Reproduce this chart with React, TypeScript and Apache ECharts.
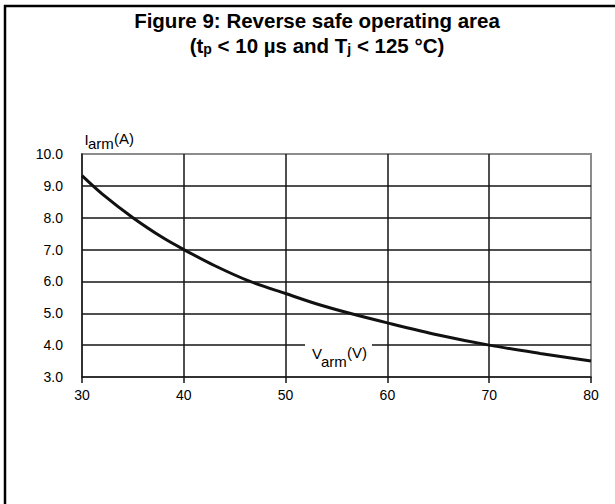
import React, { useEffect, useRef } from "react";
import * as echarts from "echarts";

const FONT = "'Liberation Sans', Arial, Helvetica, sans-serif";

const titleLine1 = "Figure 9: Reverse safe operating area";
const titleLine2 = "(t{sub|p} < 10 µs and T{sub|j} < 125 °C)";

// V_arm (V) and I_arm (A)
const vArm = [30, 32, 35, 38, 40, 43, 46.5, 50, 53, 56.3, 60, 65, 70, 75, 80];
const iArm = [9.32, 8.74, 8.0, 7.36, 7.0, 6.5, 6.0, 5.62, 5.3, 5.0, 4.7, 4.32, 4.0, 3.74, 3.5];

const xMin = 30;
const xMax = 80;
const xStep = 10;
const yMin = 3;
const yMax = 10;
const yStep = 1;

export default function App() {
  const ref = useRef<HTMLDivElement>(null);

  useEffect(() => {
    if (!ref.current) return;
    const chart = echarts.init(ref.current, null, { renderer: "svg" });
    const black = "#151515";
    chart.setOption({
      animation: false,
      backgroundColor: "#ffffff",
      grid: {
        left: 82,
        right: 24,
        top: 154,
        bottom: 127,
        show: true,
        borderColor: "#8c8c8c",
        borderWidth: 2,
        backgroundColor: "transparent",
      },
      xAxis: {
        type: "value",
        min: xMin,
        max: xMax,
        interval: xStep,
        axisLine: { show: true, onZero: false, lineStyle: { color: black, width: 1.5 } },
        axisTick: { show: true, length: 6, lineStyle: { color: black, width: 1.5 } },
        axisLabel: { color: "#000", fontSize: 14, fontFamily: FONT, margin: 11 },
        splitLine: {
          show: true,
          showMinLine: false,
          showMaxLine: false,
          lineStyle: { color: black, width: 1.5 },
        },
      },
      yAxis: {
        type: "value",
        min: yMin,
        max: yMax,
        interval: yStep,
        axisLine: { show: true, onZero: false, lineStyle: { color: black, width: 1.5 } },
        axisTick: { show: false },
        axisLabel: {
          color: "#000",
          fontSize: 14,
          fontFamily: FONT,
          margin: 19,
          padding: [0, 0, 6, 0],
          formatter: (v: number) => v.toFixed(1),
        },
        splitLine: {
          show: true,
          showMinLine: false,
          showMaxLine: false,
          lineStyle: { color: black, width: 1.5 },
        },
      },
      series: [
        {
          type: "line",
          data: vArm.map((v, i) => [v, iArm[i]]),
          smooth: 0.3,
          showSymbol: false,
          lineStyle: { color: "#111", width: 3 },
          z: 5,
        },
      ],
      graphic: [
        { type: "line", z: 50, shape: { x1: 4, y1: 6, x2: 615, y2: 6 }, style: { stroke: "#000", lineWidth: 2.5 } },
        { type: "line", z: 50, shape: { x1: 5, y1: 5, x2: 5, y2: 504 }, style: { stroke: "#000", lineWidth: 2.5 } },
        {
          type: "text",
          z: 50,
          x: 317,
          y: 20,
          style: {
            text: titleLine1,
            fontSize: 20.5,
            fontWeight: "bold",
            fontFamily: FONT,
            fill: "#000",
            align: "center",
            verticalAlign: "middle",
          },
        },
        {
          type: "text",
          z: 50,
          x: 317,
          y: 45,
          style: {
            text: titleLine2,
            fontSize: 20.5,
            fontWeight: "bold",
            fontFamily: FONT,
            fill: "#000",
            align: "center",
            verticalAlign: "middle",
            rich: {
              sub: {
                fontSize: 14,
                fontWeight: "bold",
                fontFamily: FONT,
                fill: "#000",
                verticalAlign: "bottom",
                lineHeight: 11,
              },
            },
          },
        },
        { type: "rect", z: 60, shape: { x: 305, y: 338, width: 67, height: 12 }, style: { fill: "#fff" } },
        { type: "text", z: 70, x: 84.5, y: 139, style: { text: "I", fontSize: 15, fontFamily: FONT, fill: "#000", align: "left", verticalAlign: "middle" } },
        { type: "text", z: 70, x: 88, y: 143, style: { text: "arm", fontSize: 15, fontFamily: FONT, fill: "#000", align: "left", verticalAlign: "middle" } },
        { type: "text", z: 70, x: 114, y: 138.5, style: { text: "(A)", fontSize: 15, fontFamily: FONT, fill: "#000", align: "left", verticalAlign: "middle" } },
        { type: "text", z: 70, x: 312, y: 353, style: { text: "V", fontSize: 15, fontFamily: FONT, fill: "#000", align: "left", verticalAlign: "middle" } },
        { type: "text", z: 70, x: 321, y: 361, style: { text: "arm", fontSize: 15, fontFamily: FONT, fill: "#000", align: "left", verticalAlign: "middle" } },
        { type: "text", z: 70, x: 347, y: 352, style: { text: "(V)", fontSize: 15, fontFamily: FONT, fill: "#000", align: "left", verticalAlign: "middle" } },
      ],
    });
    return () => chart.dispose();
  }, []);

  return (
    <div
      ref={ref}
      style={{ position: "fixed", left: 0, top: 0, width: 615, height: 504, background: "#fff" }}
    />
  );
}
